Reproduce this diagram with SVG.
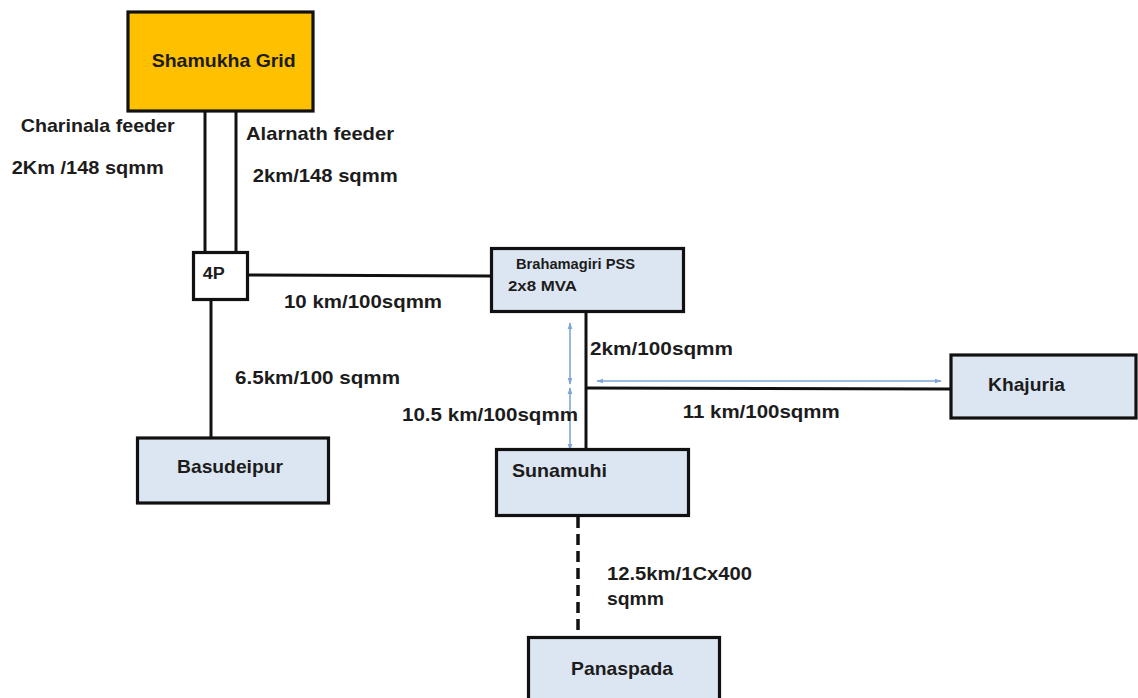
<svg xmlns="http://www.w3.org/2000/svg" width="1138" height="698" viewBox="0 0 1138 698">
<defs>
<style>
.box{stroke:#111;stroke-width:3.2;}
.grid{fill:#FFC000;}
.blue{fill:#DCE6F2;}
.white{fill:#fff;}
.ln{stroke:#111;stroke-width:3;fill:none;}
.dash{stroke:#111;stroke-width:3.5;fill:none;stroke-dasharray:11 6;}
.arr{stroke:#7FA7D6;stroke-width:1.6;fill:none;marker-start:url(#ah);marker-end:url(#ah);}
text{font-family:"Liberation Sans",Arial,sans-serif;font-weight:bold;font-size:19px;fill:#1c1c1c;}
.sm{font-size:14.5px;}
</style>
<marker id="ah" viewBox="0 0 10 10" refX="9" refY="5" markerWidth="7" markerHeight="7" orient="auto-start-reverse" markerUnits="userSpaceOnUse">
<path d="M0,1.5 L10,5 L0,8.5 Z" fill="#7FA7D6"/>
</marker>
</defs>
<rect width="1138" height="698" fill="#fff"/>
<g id="connectors">
<line class="ln" x1="205" y1="112" x2="205" y2="252"/>
<line class="ln" x1="236" y1="112" x2="236" y2="252"/>
<line class="ln" x1="248" y1="275" x2="491" y2="276"/>
<line class="ln" x1="211" y1="300" x2="211" y2="438"/>
<line class="ln" x1="586" y1="312" x2="586" y2="449"/>
<line class="ln" x1="586" y1="388" x2="951" y2="389"/>
<line class="dash" x1="578" y1="517" x2="578" y2="637"/>
<line class="arr" x1="597" y1="381" x2="941" y2="381"/>
<line class="arr" x1="570" y1="323" x2="570" y2="384"/>
<line class="arr" x1="570" y1="388" x2="570" y2="450"/>
<text x="20.7" y="132" textLength="154" lengthAdjust="spacingAndGlyphs">Charinala feeder</text>
<text x="11.7" y="174" textLength="152" lengthAdjust="spacingAndGlyphs">2Km /148 sqmm</text>
<text x="246" y="140" textLength="148" lengthAdjust="spacingAndGlyphs">Alarnath feeder</text>
<text x="252.7" y="182" textLength="145" lengthAdjust="spacingAndGlyphs">2km/148 sqmm</text>
<text x="284" y="308" textLength="158" lengthAdjust="spacingAndGlyphs">10 km/100sqmm</text>
<text x="235" y="384" textLength="165" lengthAdjust="spacingAndGlyphs">6.5km/100 sqmm</text>
<text x="590" y="355" textLength="143" lengthAdjust="spacingAndGlyphs">2km/100sqmm</text>
<text x="402" y="421" textLength="176" lengthAdjust="spacingAndGlyphs">10.5 km/100sqmm</text>
<text x="682.7" y="418" textLength="157" lengthAdjust="spacingAndGlyphs">11 km/100sqmm</text>
<text x="607" y="580" textLength="145" lengthAdjust="spacingAndGlyphs">12.5km/1Cx400</text>
<text x="607" y="605" textLength="57" lengthAdjust="spacingAndGlyphs">sqmm</text>
</g>
<g id="shamukha">
<rect class="box grid" x="128" y="12" width="185" height="99"/>
<text x="151.7" y="67" textLength="144" lengthAdjust="spacingAndGlyphs">Shamukha Grid</text>
</g>
<g id="fourp">
<rect class="box white" x="193.5" y="252.5" width="54" height="47"/>
<text x="202.7" y="279" textLength="22" lengthAdjust="spacingAndGlyphs" style="font-size:16px">4P</text>
</g>
<g id="brahamagiri">
<rect class="box blue" x="491.5" y="248.5" width="192" height="63"/>
<text class="sm" x="516" y="269" textLength="119" lengthAdjust="spacingAndGlyphs">Brahamagiri PSS</text>
<text class="sm" x="508" y="291" textLength="69" lengthAdjust="spacingAndGlyphs">2x8 MVA</text>
</g>
<g id="khajuria">
<rect class="box blue" x="951" y="355" width="185" height="63"/>
<text x="988" y="391" textLength="77" lengthAdjust="spacingAndGlyphs">Khajuria</text>
</g>
<g id="basudeipur">
<rect class="box blue" x="137.5" y="438" width="191" height="65"/>
<text x="177" y="473" textLength="106" lengthAdjust="spacingAndGlyphs">Basudeipur</text>
</g>
<g id="sunamuhi">
<rect class="box blue" x="496.5" y="449.5" width="192" height="66"/>
<text x="512" y="477" textLength="95" lengthAdjust="spacingAndGlyphs">Sunamuhi</text>
</g>
<g id="panaspada">
<rect class="box blue" x="528.5" y="637.5" width="191" height="70"/>
<text x="571" y="675" textLength="102" lengthAdjust="spacingAndGlyphs">Panaspada</text>
</g>
</svg>
